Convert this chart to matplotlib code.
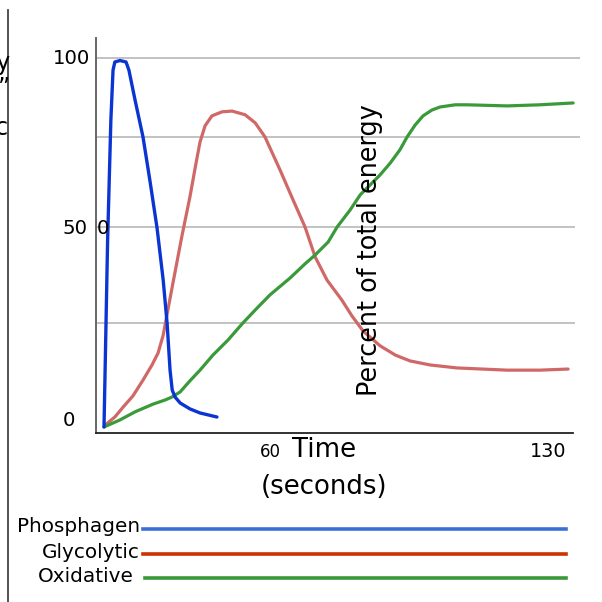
import matplotlib
matplotlib.use("Agg")
import matplotlib.pyplot as plt
from matplotlib.lines import Line2D

# ---- data (time in seconds, percent of total energy) ----
phos_t = [0, 1.0, 1.9, 2.5, 3.0, 4.4, 6.1, 6.9, 8.6, 10.8, 12.7, 14.7, 16.4, 17.5,
          18.3, 18.9, 19.7, 21.1, 23.8, 26.6, 31.3]
phos_p = [0, 50.7, 83.2, 96.7, 98.9, 99.3, 98.9, 96.7, 88.6, 78.6, 66.9, 53.9, 39.8,
          27.9, 15.4, 10.0, 8.1, 6.5, 4.9, 3.8, 2.7]

glyc_t = [0.3, 3.0, 5.3, 8.0, 10.8, 13.3, 15.0, 16.4, 17.7, 19.1, 21.6, 23.8, 25.5,
          26.6, 28.0, 29.9, 32.7, 35.5, 39.1, 41.9, 44.6, 48.8, 52.4, 55.7, 58.5,
          61.8, 65.9, 68.7, 71.8, 76.5, 80.7, 84.8, 90.4, 97.8, 111.7, 120.8, 128.6]
glyc_p = [0.5, 2.7, 5.4, 8.4, 12.7, 16.8, 20.1, 24.9, 31.7, 39.0, 51.8, 62.3, 71.5,
          77.2, 81.6, 84.3, 85.4, 85.6, 84.6, 82.4, 78.6, 69.6, 61.5, 54.2, 46.1,
          39.8, 34.4, 30.1, 26.0, 22.0, 19.5, 17.9, 16.8, 16.0, 15.4, 15.4, 15.7]

oxid_t = [0, 4.4, 8.6, 13.6, 16.9, 18.8, 21.1, 23.8, 26.6, 30.2, 34.4, 38.5, 42.4,
          46.0, 51.6, 55.7, 58.5, 62.1, 64.6, 68.2, 71.0, 76.5, 79.3, 82.0, 84.0,
          86.2, 88.4, 90.9, 93.1, 97.3, 100.6, 111.7, 120.8, 130.0]
oxid_p = [0, 1.9, 4.1, 6.2, 7.3, 8.1, 9.5, 12.5, 15.4, 19.5, 23.6, 28.2, 32.2,
          35.8, 40.4, 44.2, 46.6, 50.1, 54.2, 58.8, 62.9, 68.3, 71.5, 75.1, 78.6,
          81.8, 84.3, 85.9, 86.7, 87.3, 87.3, 87.0, 87.3, 87.8]

grid_vals = [100, 78.6, 54.2, 28.2]
legend_labels = ["Phosphagen", "Glycolytic", "Oxidative"]

W = 602.0


def fx(x):
    return x / W


def fy(y):
    return 1 - y / W


fig = plt.figure(figsize=(6.02, 6.02), dpi=100)
fig.patch.set_facecolor("white")

ax = fig.add_axes([fx(96), fy(433), (580 - 96) / W, (433 - 38) / W])
ax.set_xlim(-2.22, 131.9)
ax.set_ylim(-1.63, 105.4)

# grid lines
for i, g in enumerate(grid_vals):
    xmax = 131.9 if i < 2 else 130.5
    ax.hlines(g, -2.22, xmax, color="#bdbdbd", lw=1.3, zorder=1)

ax.plot(glyc_t, glyc_p, color="#d06868", lw=2.3, solid_joinstyle="round",
        solid_capstyle="round", zorder=3)
ax.plot(oxid_t, oxid_p, color="#3a9a3a", lw=2.3, solid_joinstyle="round",
        solid_capstyle="round", zorder=3)
ax.plot(phos_t, phos_p, color="#0a35d2", lw=2.4, solid_joinstyle="round",
        solid_capstyle="round", zorder=4)

for s in ["top", "right"]:
    ax.spines[s].set_visible(False)
ax.spines["left"].set_color("#666666")
ax.spines["left"].set_linewidth(1.4)
ax.spines["bottom"].set_color("#222222")
ax.spines["bottom"].set_linewidth(1.3)
ax.spines["bottom"].set_bounds(-2.22, 130)
ax.set_xticks([])
ax.set_yticks([])
ax.patch.set_alpha(0)

# y tick texts
fig.text(fx(90), fy(58), "100", ha="right", va="center", fontsize=14.2)
fig.text(fx(87), fy(228), "50", ha="right", va="center", fontsize=14.2)
fig.text(fx(97), fy(228), "0", ha="left", va="center", fontsize=14.2)
fig.text(fx(69), fy(421), "0", ha="center", va="center", fontsize=14.2)

# x texts
fig.text(fx(270), fy(457), "60", ha="center", va="baseline", fontsize=12)
fig.text(fx(292), fy(457), "Time", ha="left", va="baseline", fontsize=18.7)
fig.text(fx(548), fy(457), "130", ha="center", va="baseline", fontsize=13.8)
fig.text(fx(324), fy(487), "(seconds)", ha="center", va="center", fontsize=18.7)

fig.text(fx(370), fy(250), "Percent of total energy", rotation=90,
         ha="center", va="center", fontsize=18.4)

# clipped texts at left edge (cut off in the reference as well)
fig.text(fx(11), fy(70), "energy", ha="right", va="baseline", fontsize=17)
fig.text(fx(10), fy(95), "\u201d", ha="right", va="baseline", fontsize=17)
fig.text(fx(9), fy(135), "aerobic", ha="right", va="baseline", fontsize=17)
fig.add_artist(Line2D([fx(7.5), fx(7.5)], [fy(10), fy(602)], color="#444444",
                      lw=1.3, transform=fig.transFigure))

# legend
leg_colors = ["#3a6fd8", "#cc3300", "#3a9a3a"]
leg_y = [529, 554, 578]
leg_text_y = [527, 552, 577]
leg_text_x = [140, 140, 134]
leg_x0 = [143, 143, 145]
for lab, c, ly, ty, tx, x0 in zip(legend_labels, leg_colors, leg_y, leg_text_y,
                                  leg_text_x, leg_x0):
    fig.text(fx(tx), fy(ty), lab, ha="right", va="center", fontsize=14.4)
    fig.add_artist(Line2D([fx(x0), fx(566)], [fy(ly), fy(ly)], color=c, lw=2.6,
                          transform=fig.transFigure))

fig.savefig("out.png", dpi=100)
